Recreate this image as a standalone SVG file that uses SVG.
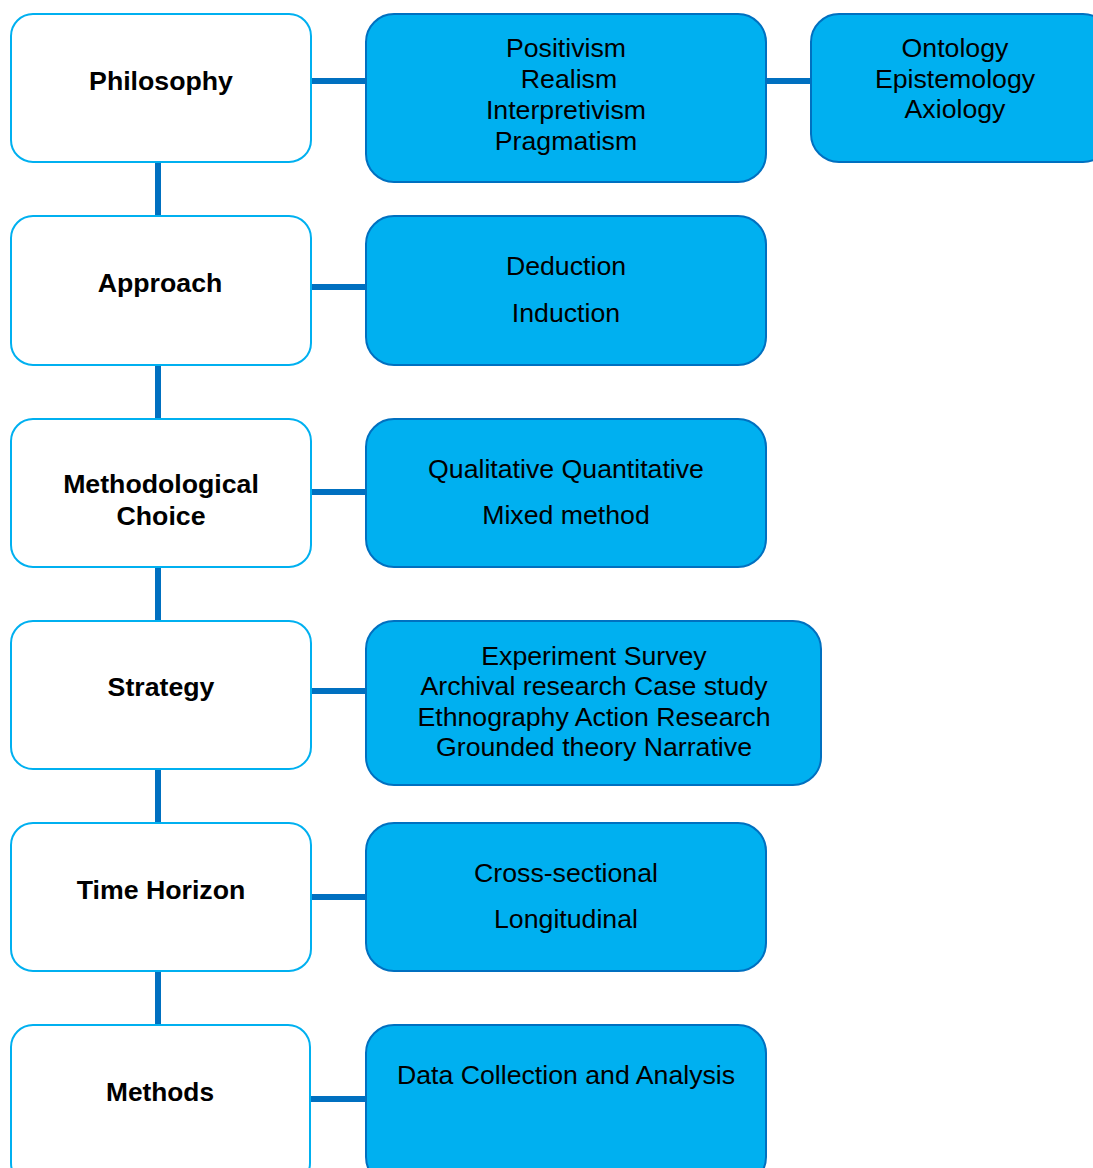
<svg xmlns="http://www.w3.org/2000/svg" width="1093" height="1168" viewBox="0 0 1093 1168">
  <style>
    .stage { fill: #FFFFFF; stroke: #00B0F0; stroke-width: 2; }
    .detail { fill: #00B0F0; stroke: #0070C0; stroke-width: 2; }
    .link { stroke: #0070C0; stroke-width: 6; fill: none; }
    .title { font-family: "Liberation Sans", Arial, sans-serif; font-size: 26.7px; font-weight: bold; fill: #000; text-anchor: middle; }
    .item { font-family: "Liberation Sans", Arial, sans-serif; font-size: 26.7px; fill: #000; text-anchor: middle; }
  </style>
  <rect width="1093" height="1168" fill="#FFFFFF"/>

  <!-- connectors -->
  <g id="connectors">
    <line class="link" x1="158" y1="162" x2="158" y2="216"/>
    <line class="link" x1="158" y1="365" x2="158" y2="419"/>
    <line class="link" x1="158" y1="567" x2="158" y2="621"/>
    <line class="link" x1="158" y1="769" x2="158" y2="823"/>
    <line class="link" x1="158" y1="971" x2="158" y2="1025"/>
    <line class="link" x1="311" y1="81" x2="366" y2="81"/>
    <line class="link" x1="766" y1="81" x2="811" y2="81"/>
    <line class="link" x1="311" y1="287" x2="366" y2="287"/>
    <line class="link" x1="311" y1="492" x2="366" y2="492"/>
    <line class="link" x1="311" y1="691" x2="366" y2="691"/>
    <line class="link" x1="311" y1="897" x2="366" y2="897"/>
    <line class="link" x1="311" y1="1099" x2="366" y2="1099"/>
  </g>

  <!-- Philosophy row -->
  <g id="philosophy">
    <rect class="stage" x="11" y="14" width="300" height="148" rx="22"/>
    <text class="title" x="161" y="90">Philosophy</text>
  </g>
  <g id="philosophies">
    <rect class="detail" x="366" y="14" width="400" height="168" rx="28"/>
    <text class="item" x="566" y="57">Positivism</text>
    <text class="item" x="569" y="88">Realism</text>
    <text class="item" x="566" y="119">Interpretivism</text>
    <text class="item" x="566" y="150">Pragmatism</text>
  </g>
  <g id="assumptions">
    <rect class="detail" x="811" y="14" width="300" height="148" rx="28"/>
    <text class="item" x="955" y="57">Ontology</text>
    <text class="item" x="955" y="88">Epistemology</text>
    <text class="item" x="955" y="118">Axiology</text>
  </g>

  <!-- Approach row -->
  <g id="approach">
    <rect class="stage" x="11" y="216" width="300" height="149" rx="22"/>
    <text class="title" x="160" y="292">Approach</text>
  </g>
  <g id="approaches">
    <rect class="detail" x="366" y="216" width="400" height="149" rx="28"/>
    <text class="item" x="566" y="275">Deduction</text>
    <text class="item" x="566" y="322">Induction</text>
  </g>

  <!-- Methodological choice row -->
  <g id="methodological-choice">
    <rect class="stage" x="11" y="419" width="300" height="148" rx="22"/>
    <text class="title" x="161" y="493">Methodological</text>
    <text class="title" x="161" y="525">Choice</text>
  </g>
  <g id="choices">
    <rect class="detail" x="366" y="419" width="400" height="148" rx="28"/>
    <text class="item" x="566" y="478">Qualitative Quantitative</text>
    <text class="item" x="566" y="524">Mixed method</text>
  </g>

  <!-- Strategy row -->
  <g id="strategy">
    <rect class="stage" x="11" y="621" width="300" height="148" rx="22"/>
    <text class="title" x="161" y="696">Strategy</text>
  </g>
  <g id="strategies">
    <rect class="detail" x="366" y="621" width="455" height="164" rx="28"/>
    <text class="item" x="594" y="665">Experiment Survey</text>
    <text class="item" x="594" y="695">Archival research Case study</text>
    <text class="item" x="594" y="726">Ethnography Action Research</text>
    <text class="item" x="594" y="756">Grounded theory Narrative</text>
  </g>

  <!-- Time horizon row -->
  <g id="time-horizon">
    <rect class="stage" x="11" y="823" width="300" height="148" rx="22"/>
    <text class="title" x="161" y="899">Time Horizon</text>
  </g>
  <g id="horizons">
    <rect class="detail" x="366" y="823" width="400" height="148" rx="28"/>
    <text class="item" x="566" y="882">Cross-sectional</text>
    <text class="item" x="566" y="928">Longitudinal</text>
  </g>

  <!-- Methods row -->
  <g id="methods">
    <rect class="stage" x="11" y="1025" width="299" height="160" rx="22"/>
    <text class="title" x="160" y="1101" textLength="108" lengthAdjust="spacingAndGlyphs">Methods</text>
  </g>
  <g id="data">
    <rect class="detail" x="366" y="1025" width="400" height="160" rx="28"/>
    <text class="item" x="566" y="1084">Data Collection and Analysis</text>
  </g>
</svg>
